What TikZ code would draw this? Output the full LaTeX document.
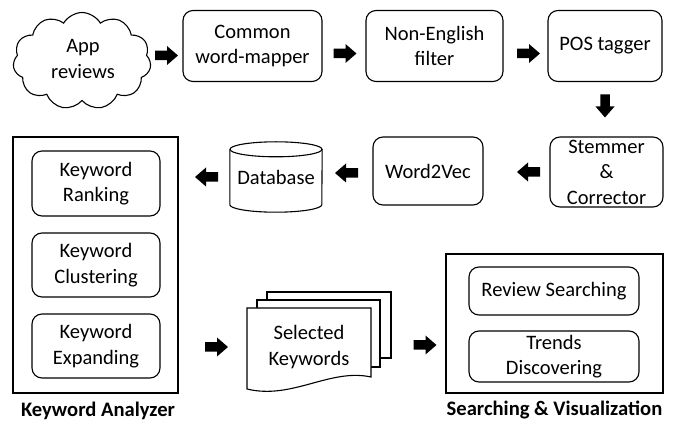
\documentclass[tikz,border=0pt]{standalone}
\usepackage{fontspec}
\setmainfont{Carlito}
\usetikzlibrary{shapes.symbols,calc}
\begin{document}
\begin{tikzpicture}[x=1pt,y=-1pt,
  every node/.style={font=\fontsize{20.5}{25.5}\selectfont, align=center, inner sep=0pt},
  rbox/.style={draw, line width=1.1pt, rounded corners=10pt},
  sbox/.style={draw, line width=1.3pt},
  lbl/.style={font=\fontsize{20.6}{24}\selectfont\bfseries},
  blk/.pic={\fill (-11.5,-4.75) -- (0.5,-4.75) -- (0.5,-9.5) -- (11.5,0) -- (0.5,9.5) -- (0.5,4.75) -- (-11.5,4.75) -- cycle;}
]
\useasboundingbox (0,0) rectangle (673,422);

% top row
\node[cloud, draw, line width=1.1pt, cloud puffs=11, cloud puff arc=120, aspect=1.4,
      minimum width=138, minimum height=97] (cloud) at (82,61) {};
\node (cloudt) at (83,59) {App\\reviews};
\node[rbox, minimum width=139, minimum height=71] (cwm) at (252.5,46) {Common\\word-mapper};
\node[rbox, minimum width=137, minimum height=71] (nef) at (434.5,46) {Non-English\\filter};
\node[rbox, minimum width=114, minimum height=71] (pos) at (605,46) {POS tagger};

% middle row
\node[rbox, minimum width=113, minimum height=70] (stem) at (606.5,172) {Stemmer\\\&\\Corrector};
\node[rbox, minimum width=110, minimum height=68] (w2v) at (428,171) {Word2Vec};
\node[minimum width=92, minimum height=70] (db) at (276,177) {Database};
\draw[line width=1.1pt] ($(db.north)+(0,7.5)$) ellipse [x radius=46pt, y radius=7.5pt];
\draw[line width=1.1pt] ($(db.north west)+(0,7.5)$) -- ($(db.south west)+(0,-7.5)$)
   arc[start angle=180, end angle=360, x radius=46pt, y radius=7.5pt] -- ($(db.north east)+(0,7.5)$);

% keyword analyzer
\node[sbox, minimum width=165, minimum height=256] (ka) at (95.5,265) {};
\node[rbox, minimum width=128, minimum height=65] (kr) at (96,183.5) {Keyword\\Ranking};
\node[rbox, minimum width=128, minimum height=64] (kc) at (96,265) {Keyword\\Clustering};
\node[rbox, minimum width=128, minimum height=64] (ke) at (96,346) {Keyword\\Expanding};
\node[lbl] (kal) at (98,411) {Keyword Analyzer};

% selected keywords
\draw[fill=white, line width=1.1pt] (267,292) rectangle (391,358);
\draw[fill=white, line width=1.1pt] (257,300) rectangle (380,367);
\draw[fill=white, line width=1.1pt] (247,308) -- (371,308) -- (371,377)
   .. controls (330,368) and (292,400) .. (247,389) -- cycle;
\node (sk) at (309,347) {Selected\\Keywords};

% searching & visualization
\node[sbox, minimum width=217, minimum height=139] (sv) at (554.5,323.5) {};
\node[rbox, minimum width=170, minimum height=48] (rs) at (554,291) {Review Searching};
\node[rbox, minimum width=170, minimum height=51] (td) at (554,356.5) {Trends\\Discovering};
\node[lbl] (svl) at (554.5,410) {Searching \& Visualization};

% block arrows
\pic at (166.5,55.5) {blk};
\pic at (345,53.5) {blk};
\pic at (528.5,53.5) {blk};
\pic[rotate=-90] at (605,106) {blk};
\pic[rotate=180] at (528.5,172) {blk};
\pic[rotate=180] at (346.5,173) {blk};
\pic[rotate=180] at (206.5,177) {blk};
\pic at (216.5,347) {blk};
\pic at (425,345) {blk};
\end{tikzpicture}
\end{document}
